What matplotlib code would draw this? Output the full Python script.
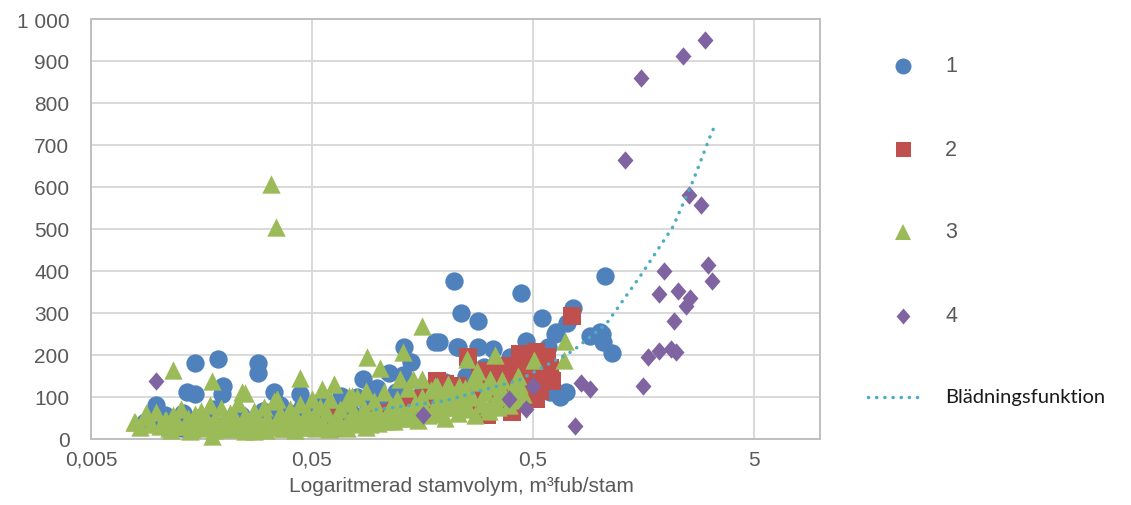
import matplotlib
matplotlib.use("Agg")
import matplotlib.pyplot as plt
from matplotlib.lines import Line2D
from matplotlib.ticker import NullLocator

# ---------------- data ----------------
# Series 1 (blue circles)
x1 = [0.0148, 0.0188, 0.0286, 0.0286, 0.0136, 0.0148, 0.0198, 0.0196, 0.0338, 0.0443,
      0.00986, 0.0108, 0.0121, 0.00879, 0.0129,
      0.221, 0.238, 0.180, 0.131, 0.140, 0.226, 0.085, 0.112, 0.129, 0.099, 0.068, 0.062, 0.0646,
      0.282, 0.441, 0.549, 0.76, 0.713, 1.06, 0.636, 0.465, 0.91, 1.01, 1.03, 1.04, 1.14, 0.63,
      0.189, 0.229, 0.282, 0.329, 0.585, 0.597, 0.706, 0.663, 0.393, 0.226,
      0.0092, 0.0112, 0.013, 0.0152, 0.0165, 0.018, 0.021, 0.024, 0.026, 0.03, 0.033, 0.036,
      0.04, 0.045, 0.05, 0.055, 0.06, 0.07, 0.075, 0.08, 0.09, 0.1, 0.11, 0.12, 0.14, 0.16,
      0.18, 0.2, 0.25, 0.3, 0.35, 0.4, 0.45, 0.5, 0.55, 0.6, 0.02, 0.028, 0.038, 0.048, 0.058,
      0.065, 0.085, 0.095, 0.13, 0.17, 0.22, 0.28]
y1 = [181, 190, 181, 155, 112, 107, 124, 105, 112, 105,
      81, 57, 43, 40, 24,
      376, 300, 231, 219, 183, 219, 143, 155, 152, 121, 102, 31, 26,
      281, 348, 288, 312, 276, 388, 255, 233, 245, 255, 250, 231, 205, 250,
      231, 219, 219, 214, 219, 155, 110, 100, 195, 126,
      45, 35, 60, 50, 30, 70, 45, 55, 40, 65, 50, 80,
      60, 75, 55, 90, 70, 85, 60, 100, 75, 95, 65, 110, 90, 120,
      100, 135, 150, 170, 160, 140, 120, 100, 130, 110, 30, 25, 35, 40, 30,
      45, 40, 50, 60, 70, 85, 95]

# Series 2 (red squares)
x2 = [0.75, 0.256, 0.437, 0.52, 0.58, 0.381, 0.46, 0.60, 0.61, 0.54, 0.405, 0.309, 0.343,
      0.437, 0.20, 0.21, 0.279, 0.185, 0.195, 0.157, 0.062, 0.30, 0.36, 0.42, 0.48, 0.50,
      0.55, 0.40, 0.45, 0.33, 0.25, 0.23, 0.17, 0.14, 0.38, 0.52, 0.47, 0.29, 0.35, 0.44,
      0.12, 0.10]
y2 = [293, 195, 202, 207, 195, 174, 183, 167, 136, 114, 64, 55, 95,
      126, 131, 88, 79, 136, 79, 95, 48, 120, 140, 150, 110, 160,
      150, 100, 90, 130, 110, 125, 105, 80, 75, 95, 130, 160, 170, 185,
      70, 60]

# Series 3 (green triangles)
x3 = [0.0328, 0.0345, 0.0118, 0.0177, 0.0443, 0.158, 0.089, 0.102, 0.129, 0.0242, 0.0250,
      0.00792, 0.00888, 0.0109, 0.0177, 0.0274, 0.063, 0.0558, 0.076, 0.125, 0.157, 0.180,
      0.70, 0.69, 0.251, 0.336, 0.506, 0.428, 0.319, 0.279, 0.267, 0.233, 0.313, 0.362,
      0.204, 0.189, 0.246, 0.0349, 0.088, 0.074, 0.0503, 0.184, 0.226, 0.143,
      0.0078, 0.0083, 0.0088, 0.0093, 0.0098, 0.0103, 0.0108, 0.0113, 0.0118, 0.0123,
      0.0128, 0.0133, 0.0138, 0.0143, 0.0148, 0.0153, 0.0158, 0.0163, 0.0168, 0.0173,
      0.0178, 0.0183, 0.0188, 0.0193, 0.0198,
      0.0205, 0.0212, 0.0218, 0.0225, 0.0232, 0.024, 0.0248, 0.0256, 0.0265, 0.0274,
      0.0283, 0.0293, 0.0303, 0.0314, 0.0325, 0.0336, 0.0348, 0.036, 0.0373, 0.0386,
      0.04, 0.0414, 0.0428, 0.0443, 0.0459, 0.0475, 0.0492, 0.051,
      0.0528, 0.0546, 0.0565, 0.0585, 0.0606, 0.0628, 0.065, 0.0673, 0.0697, 0.0722,
      0.0748, 0.0775, 0.0802, 0.083, 0.086, 0.089, 0.092, 0.0955, 0.099, 0.1025,
      0.106, 0.11, 0.114, 0.118, 0.122, 0.127, 0.131, 0.136,
      0.141, 0.146, 0.151, 0.157, 0.162, 0.168, 0.174, 0.18, 0.187, 0.194,
      0.2, 0.207, 0.215, 0.222, 0.23, 0.238, 0.247, 0.256, 0.265, 0.274,
      0.284, 0.294, 0.305, 0.316, 0.327, 0.338, 0.35, 0.363, 0.376, 0.39,
      0.404, 0.418, 0.433, 0.45,
      0.0115, 0.0125, 0.014, 0.0152, 0.0165, 0.018, 0.0195, 0.021, 0.023, 0.025,
      0.027, 0.029, 0.031, 0.034, 0.037, 0.039, 0.042, 0.045, 0.048, 0.052,
      0.056, 0.06, 0.064, 0.068, 0.072, 0.077, 0.082, 0.088, 0.094, 0.1,
      0.108, 0.116, 0.125, 0.135, 0.145, 0.16, 0.175, 0.19, 0.21, 0.23]
y3 = [607, 505, 164, 138, 145, 267, 195, 169, 207, 112, 108,
      40, 60, 43, 5, 19, 131, 119, 102, 143, 143, 126,
      233, 188, 190, 198, 186, 148, 143, 162, 143, 126, 76, 114,
      112, 95, 88, 95, 114, 102, 95, 126, 112, 143,
      40, 28, 52, 35, 62, 30, 45, 25, 55, 38,
      70, 30, 48, 22, 58, 36, 65, 28, 44, 80,
      32, 50, 26, 72, 40,
      35, 60, 25, 48, 85, 30, 55, 40, 22, 66,
      45, 30, 75, 50, 28, 90, 38, 60, 24, 52,
      70, 34, 46, 82, 28, 62, 40, 55,
      45, 75, 30, 60, 95, 38, 52, 70, 28, 85,
      48, 62, 100, 40, 72, 55, 35, 90, 65, 48,
      110, 58, 80, 42, 95, 68, 50, 120,
      60, 85, 45, 100, 70, 55, 115, 80, 62, 95,
      50, 130, 75, 105, 60, 88, 120, 70, 98, 55,
      135, 82, 110, 65, 125, 90, 75, 140, 100, 80,
      115, 92, 130, 105,
      20, 30, 18, 25, 34, 20, 28, 22, 32, 18,
      26, 38, 20, 30, 24, 35, 20, 28, 42, 25,
      32, 22, 40, 30, 26, 45, 35, 28, 50, 38,
      42, 55, 48, 60, 52, 65, 58, 70, 75, 80]

# Series 4 (purple diamonds)
x4 = [0.0098, 0.16, 0.39, 0.465, 0.5, 0.78, 0.83, 0.91, 1.31, 1.55, 1.58, 1.66, 1.86, 1.86,
      1.96, 2.11, 2.18, 2.23, 2.27, 2.39, 2.47, 2.55, 2.58, 2.89, 3.01, 3.11, 3.24]
y4 = [136, 57, 95, 71, 126, 29, 133, 119, 664, 860, 126, 195, 209, 345,
      400, 214, 281, 207, 352, 912, 317, 581, 336, 557, 950, 414, 376]

# Blädningsfunktion (dotted curve)
xb = [0.098, 0.201, 0.437, 0.76, 1.08, 1.53, 2.16, 2.66, 3.24, 3.4]
yb = [69, 90, 140, 209, 274, 386, 505, 614, 731, 752]

xticks = [0.005, 0.05, 0.5, 5]
xtick_labels = ['0,005', '0,05', '0,5', '5']
yticks = [0, 100, 200, 300, 400, 500, 600, 700, 800, 900, 1000]
ytick_labels = ['0', '100', '200', '300', '400', '500', '600', '700', '800', '900', '1 000']
legend_labels = ['1', '2', '3', '4', 'Blädningsfunktion']
xlabel = 'Logaritmerad stamvolym, m³fub/stam'

# ---------------- styling ----------------
C1, C2, C3, C4, CL = '#4F81BD', '#C0504D', '#9BBB59', '#8064A2', '#4BACC6'
GREY = '#595959'
plt.rcParams['font.family'] = ['Liberation Sans', 'DejaVu Sans']

W, H = 1131, 506
fig = plt.figure(figsize=(W / 100, H / 100), dpi=100)
L, R, T, B = 91, 820, 20, 439.5
ax = fig.add_axes([L / W, 1 - B / H, (R - L) / W, (B - T) / H])

diamond = [(0, 1), (0.87, 0), (0, -1), (-0.87, 0), (0, 1)]
ms_c, ms_s, ms_t, ms_d = 13.2, 12.4, 13.2, 13.2

ax.scatter(x1, y1, s=ms_c ** 2, marker='o', color=C1, linewidths=0, zorder=3, clip_on=False)
ax.scatter(x2, y2, s=ms_s ** 2, marker='s', color=C2, linewidths=0, zorder=4, clip_on=False)
ax.scatter(x3, y3, s=ms_t ** 2, marker='^', color=C3, linewidths=0, zorder=5, clip_on=False)
ax.scatter(x4, y4, s=ms_d ** 2, marker=diamond, color=C4, linewidths=0, zorder=6, clip_on=False)
ax.plot(xb, yb, color=CL, lw=2.5, linestyle=(0, (0.05, 2.3)), dash_capstyle='round', zorder=7)

ax.set_xscale('log')
ax.set_xlim(0.005, 10)
ax.set_ylim(0, 1000)
ax.set_xticks(xticks)
ax.set_xticklabels(xtick_labels)
ax.xaxis.set_minor_locator(NullLocator())
ax.set_yticks(yticks)
ax.set_yticklabels(ytick_labels)
ax.grid(True, color='#D9D9D9', lw=1.4)
ax.set_axisbelow(True)
for s in ax.spines.values():
    s.set_color('#BFBFBF')
    s.set_linewidth(1.4)
ax.tick_params(axis='both', length=0, labelsize=15, colors=GREY)
ax.tick_params(axis='y', pad=15.5)
ax.tick_params(axis='x', pad=8)

fig.text(461 / W, 1 - 492 / H, xlabel, ha='center', va='baseline', fontsize=15, color=GREY)

# ---------------- legend (manual, positioned like the reference) ----------------
mx = 903 / W
rows = [66.7, 150, 233, 316.7, 398]
styles = [('o', C1, 11.5), ('s', C2, 10.8), ('^', C3, 11.5), (diamond, C4, 11.5)]
for (m, c, ms), py, lab in zip(styles, rows[:4], legend_labels[:4]):
    fig.add_artist(Line2D([mx], [1 - py / H], transform=fig.transFigure, marker=m,
                          color=c, markersize=ms, markeredgewidth=0, linestyle='none'))
    fig.text(945 / W, 1 - py / H, lab, ha='left', va='center', fontsize=15.5, color=GREY)
fig.add_artist(Line2D([868 / W, 922 / W], [1 - rows[4] / H] * 2, transform=fig.transFigure,
                      color=CL, lw=2.5, linestyle=(0, (0.05, 2.3)), dash_capstyle='round'))
fig.text(945 / W, 1 - rows[4] / H, legend_labels[4], ha='left', va='center', fontsize=14.5,
         color='#1A1A1A', family=['Lato', 'DejaVu Sans'])

fig.savefig('out.png', dpi=100)
